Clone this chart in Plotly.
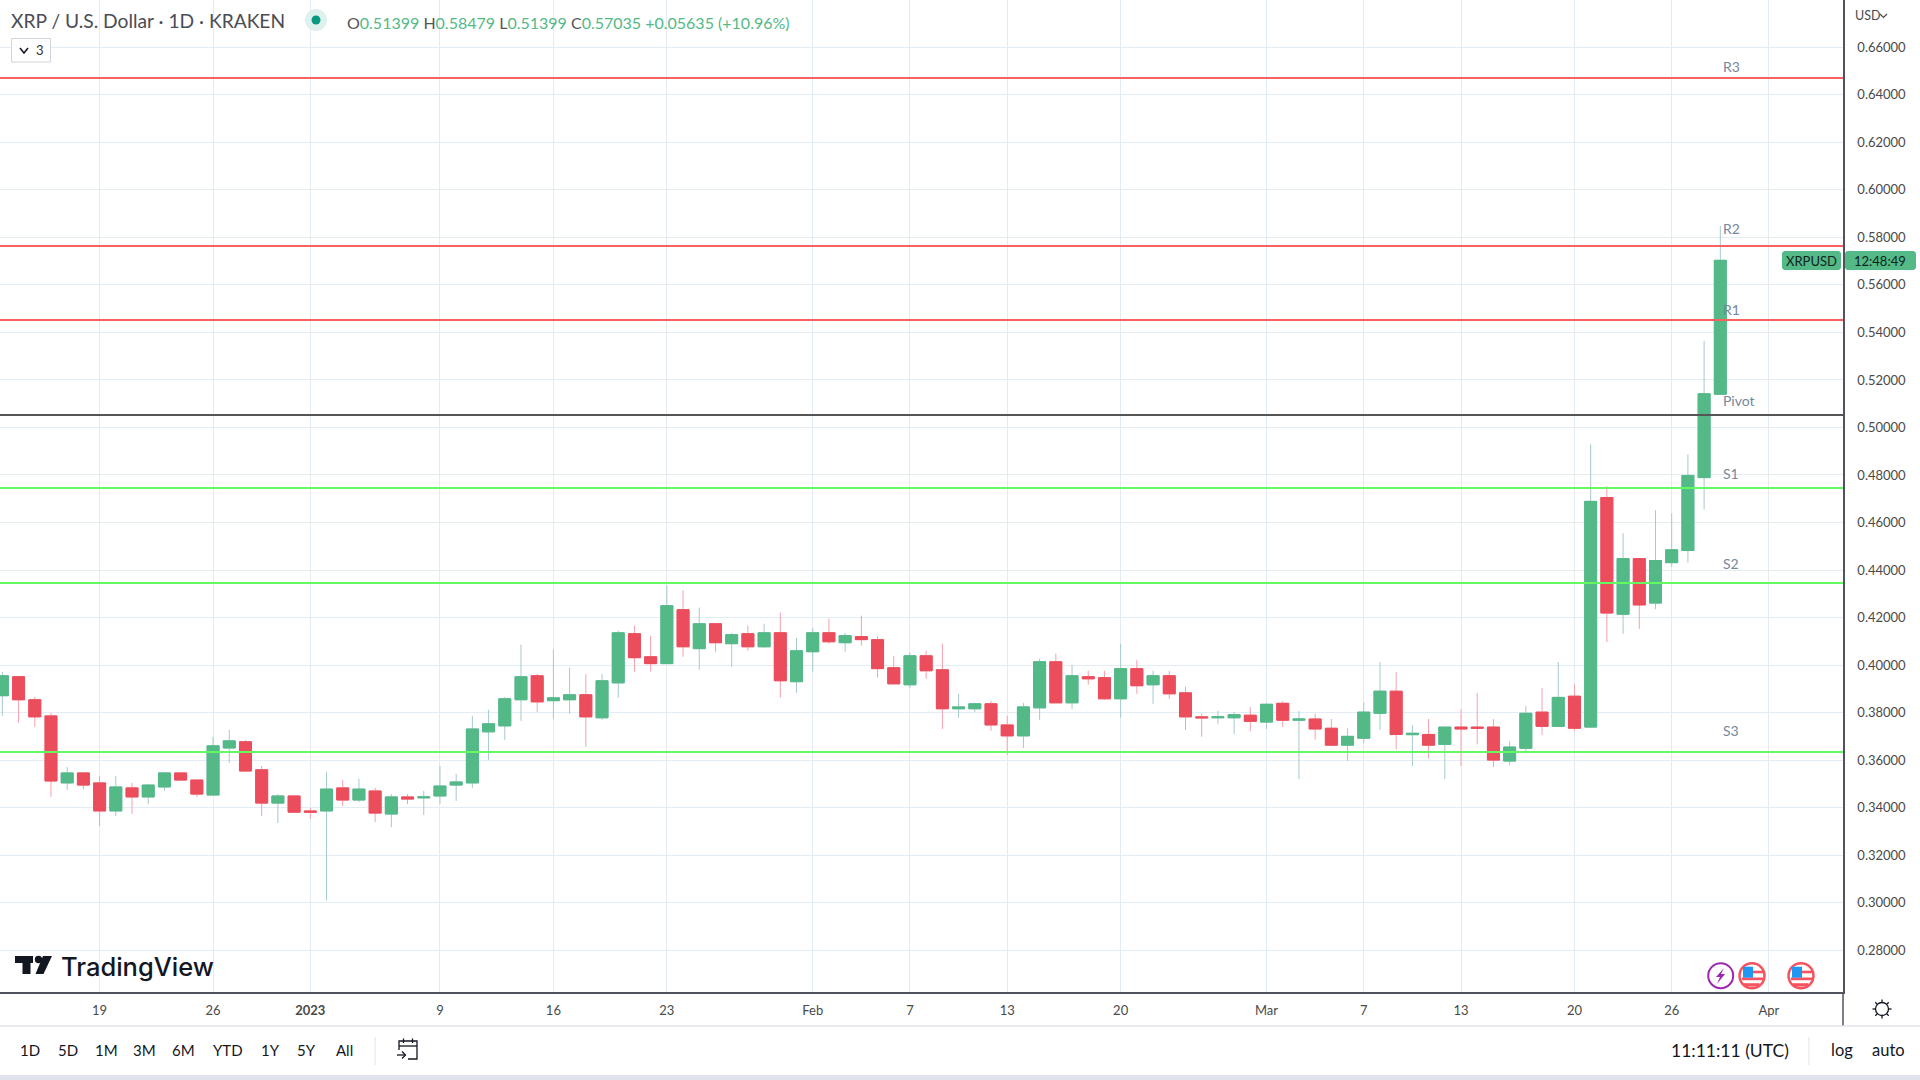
import math
import pandas as pd
import plotly.graph_objects as go

# ---------- data ----------
dates = pd.date_range("2022-12-13", "2023-03-29", freq="D").strftime("%Y-%m-%d").tolist()
opens = [.3871,.3951,.3854,.3786,.3504,.3546,.3504,.3386,.3483,.3445,.3487,.3546,.3516,.3453,.3651,.3677,.3559,.3419,.3449,.3386,
 .3386,.3483,.3432,.3470,.3373,.3445,.3441,.3449,.3495,.3504,.3719,.3744,.3854,.3955,.3850,.3854,.3875,.3778,.3925,.4132,
 .4035,.4006,.4233,.4069,.4174,.4090,.4132,.4077,.4136,.3930,.4056,.4136,.4094,.4120,.4107,.3989,.3917,.4039,.3980,.3816,
 .3816,.3837,.3748,.3702,.3820,.4014,.3841,.3951,.3947,.3858,.3985,.3917,.3955,.3883,.3782,.3778,.3778,.3789,.3760,.3839,
 .3768,.3773,.3734,.3663,.3692,.3797,.3890,.3707,.3708,.3666,.3739,.3739,.3739,.3596,.3650,.3802,.3742,.3869,.3739,.4705,
 .4214,.4448,.4261,.4431,.4482,.4789,.51399]
highs = [.3972,.3955,.3866,.3799,.3571,.3550,.3533,.3533,.3504,.3499,.3550,.3546,.3516,.3698,.3727,.3685,.3575,.3457,.3449,.3398,
 .3550,.3516,.3521,.3483,.3457,.3457,.3470,.3575,.3542,.3786,.3812,.3866,.4086,.3963,.4065,.3989,.3963,.3963,.4145,.4166,
 .4124,.4335,.4314,.4242,.4174,.4136,.4166,.4174,.4221,.4115,.4157,.4195,.4136,.4208,.4120,.4039,.4052,.4060,.4090,.3879,
 .3841,.3850,.3786,.3841,.4027,.4048,.4001,.3976,.3976,.4090,.4022,.3976,.3976,.3909,.3795,.3807,.3803,.3823,.3842,.3848,
 .3806,.3795,.3773,.3734,.3843,.4013,.3971,.3747,.3773,.3739,.3814,.3882,.3773,.3679,.3827,.3903,.4013,.3919,.4929,.4752,
 .4555,.4448,.4652,.4639,.4887,.5365,.58479]
lows = [.3786,.3757,.3740,.3445,.3474,.3478,.3322,.3364,.3373,.3415,.3470,.3512,.3445,.3453,.3588,.3550,.3364,.3335,.3381,.3352,
 .3010,.3407,.3423,.3339,.3318,.3415,.3369,.3415,.3428,.3483,.3601,.3685,.3765,.3803,.3774,.3795,.3656,.3769,.3862,.3972,
 .3972,.4006,.4035,.3980,.4056,.3993,.4060,.4073,.3862,.3883,.3972,.4090,.4056,.4082,.3947,.3917,.3904,.3942,.3731,.3778,
 .3803,.3723,.3622,.3651,.3769,.3841,.3816,.3917,.3854,.3778,.3879,.3837,.3858,.3727,.3698,.3753,.3710,.3721,.3731,.3739,
 .3520,.3686,.3658,.3596,.3671,.3726,.3645,.3575,.3608,.3520,.3575,.3666,.3570,.3578,.3629,.3705,.3739,.3721,.3734,.4097,
 .4131,.4152,.4235,.4413,.4431,.4655,.51399]
closes = [.3955,.3854,.3782,.3512,.3546,.3495,.3386,.3487,.3445,.3495,.3546,.3516,.3457,.3660,.3681,.3554,.3419,.3449,.3381,.3381,
 .3478,.3432,.3478,.3377,.3445,.3436,.3445,.3491,.3508,.3731,.3753,.3858,.3951,.3845,.3862,.3875,.3782,.3934,.4136,.4031,
 .4006,.4250,.4077,.4174,.4094,.4128,.4077,.4136,.3934,.4060,.4136,.4098,.4124,.4107,.3985,.3921,.4039,.3976,.3816,.3824,
 .3837,.3748,.3702,.3824,.4014,.3841,.3955,.3942,.3858,.3985,.3913,.3955,.3879,.3782,.3778,.3782,.3791,.3763,.3835,.3768,
 .3773,.3731,.3663,.3700,.3802,.3890,.3708,.3713,.3663,.3739,.3731,.3734,.3600,.3655,.3797,.3742,.3864,.3734,.4689,.4219,
 .4448,.4253,.4440,.4485,.4798,.5142,.57035]

level_names = ["R3", "R2", "R1", "Pivot", "S1", "S2", "S3"]
level_values = [.647082, .576374, .545229, .505246, .474522, .434539, .363410]
level_colors = ["#f96060", "#f96060", "#f96060", "#555555", "#62f962", "#62f962", "#62f962"]

price_ticks = [.28,.30,.32,.34,.36,.38,.40,.42,.44,.46,.48,.50,.52,.54,.56,.58,.60,.62,.64,.66]
time_ticks = ["2022-12-19","2022-12-26","2023-01-01","2023-01-09","2023-01-16","2023-01-23","2023-02-01","2023-02-07",
              "2023-02-13","2023-02-20","2023-03-01","2023-03-07","2023-03-13","2023-03-20","2023-03-26","2023-04-01"]
time_labels = ["19","26","<b>2023</b>","9","16","23","Feb","7","13","20","Mar","7","13","20","26","Apr"]
range_buttons = ["1D","5D","1M","3M","6M","YTD","1Y","5Y","All"]

# ---------- styling / layout constants (pixels of the 1920x1080 page) ----------
W, H = 1920, 1080
PLOT_R, PLOT_B = 1843, 992
FONT = "Lato"
UP, DOWN = "#53b987", "#eb4d5c"
UP_WICK, DOWN_WICK = "#a5c9cc", "#f6a0ac"
GRID = "#e4ecf3"
AXIS = "#50535e"
X_RANGE = ["2022-12-12 20:30", "2023-04-05 13:40"]
Y_RANGE = [0.2624, 0.67991]

px = lambda x: x / PLOT_R
py = lambda y: (PLOT_B - y) / PLOT_B

shapes, annots = [], []

def text(x, y, s, size=13, color="#4a4a4a", anchor="left", family=FONT, weight=None):
    f = dict(family=family, size=size, color=color)
    if weight:
        f["weight"] = weight
    annots.append(dict(xref="paper", yref="paper", x=px(x), y=py(y), text=s, showarrow=False,
                       xanchor=anchor, yanchor="middle", align=anchor, borderpad=0, borderwidth=0, font=f))

def rect(x0, y0, x1, y1, fill=None, line=None, lw=1):
    shapes.append(dict(type="rect", xref="paper", yref="paper", x0=px(x0), x1=px(x1), y0=py(y0), y1=py(y1),
                       fillcolor=fill or "rgba(0,0,0,0)", line=dict(color=line or "rgba(0,0,0,0)", width=lw if line else 0)))

def seg(x0, y0, x1, y1, color, lw=1):
    shapes.append(dict(type="line", xref="paper", yref="paper", x0=px(x0), x1=px(x1), y0=py(y0), y1=py(y1),
                       line=dict(color=color, width=lw)))

def circle(cx, cy, r, fill=None, line=None, lw=1):
    shapes.append(dict(type="circle", xref="paper", yref="paper", x0=px(cx-r), x1=px(cx+r), y0=py(cy+r), y1=py(cy-r),
                       fillcolor=fill or "rgba(0,0,0,0)", line=dict(color=line or "rgba(0,0,0,0)", width=lw if line else 0)))

def poly(points, fill=None, line=None, lw=1, closed=True):
    d = "M " + " L ".join(f"{px(a):.5f},{py(b):.5f}" for a, b in points) + (" Z" if closed else "")
    shapes.append(dict(type="path", xref="paper", yref="paper", path=d,
                       fillcolor=fill or "rgba(0,0,0,0)", line=dict(color=line or "rgba(0,0,0,0)", width=lw if line else 0)))

def tag(x0, y0, x1, y1, c=2):
    poly([(x0+c,y0),(x1-c,y0),(x1,y0+c),(x1,y1-c),(x1-c,y1),(x0+c,y1),(x0,y1-c),(x0,y0+c)], fill=UP)

# ---------- header ----------
text(11, 21, "XRP / U.S. Dollar · 1D · KRAKEN", 19.2, "#4a4d55")
circle(316, 20, 11, fill="#dff1ee")
circle(316, 20, 4.5, fill="#089981")
G = "#53b987"; L = "#555"
text(347, 22, f'<span style="color:{L}">O</span>0.51399 <span style="color:{L}">H</span>0.58479 '
              f'<span style="color:{L}">L</span>0.51399 <span style="color:{L}">C</span>0.57035 +0.05635 (+10.96%)', 16, G)
shapes.append(dict(type="rect", xref="paper", yref="paper", x0=px(11.5), x1=px(50.5), y0=py(62), y1=py(38.5),
                   fillcolor="white", line=dict(color="#d1d4dc", width=1)))
poly([(20, 48), (24, 53), (28, 48)], line="#131722", lw=1.5, closed=False)
text(36, 50, "3", 13, "#333")

# ---------- right axis decorations ----------
text(1855, 16, "USD", 12.5, "#4a4a4a")
poly([(1880, 14), (1883.5, 17.5), (1887, 14)], line="#4a4a4a", lw=1.2, closed=False)
tag(1782, 251, 1841, 270)
tag(1845, 251, 1916, 270)
text(1811.5, 261, "XRPUSD", 13, "#10241b", "center")
text(1880, 261, "12:48:49", 13, "#10241b", "center")

# ---------- level labels ----------
for name, yy in zip(level_names, [66, 228, 309, 401, 474, 563, 731]):
    text(1723, yy, name, 14, "#76889a")

# ---------- TradingView logo ----------
poly([(15,956),(33,956),(33,963),(30.5,963),(30.5,974),(22.5,974),(22.5,963),(15,963)], fill="#131722")
circle(38.5, 959.5, 3.7, fill="#131722")
poly([(43,956),(52,956),(43.5,974),(35.5,974)], fill="#131722")
text(60.5, 966, "TradingView", 25.5, "#131722", family="Inter", weight=500)

# ---------- event icons ----------
circle(1720.7, 975.7, 12.5, fill="white", line="#9c27b0", lw=2)
poly([(1724,968),(1716,977),(1720,977),(1717,984),(1725,974),(1721,974)], fill="#9c27b0")
for cx in (1752, 1801):
    circle(cx, 975.7, 12.5, fill="white", line="#f7525f", lw=2.5)
    rect(cx+1, 970.7, cx+11, 973.3, fill="#f7525f")
    rect(cx-10, 977.5, cx+11, 980.2, fill="#f7525f")
    rect(cx-8, 983.2, cx+7.5, 986.5, fill="#f7525f")
    rect(cx-9, 966.7, cx+1, 977.7, fill="#2196f3")

# ---------- axis chrome ----------
seg(PLOT_R, 992, PLOT_R, 1026, AXIS, 1.5)
seg(0, 1026, W, 1026, "#e0e3eb", 1.5)
rect(0, 1075, W, 1080, fill="#e0e3eb")
seg(375, 1037, 375, 1065, "#e0e3eb", 1)
seg(1809, 1037, 1809, 1065, "#e0e3eb", 1)
# settings gear: ring with eight short teeth
circle(1882, 1009, 6.5, line="#131722", lw=1.3)
for k in range(8):
    a = math.pi * k / 4
    seg(1882 + 6.5*math.cos(a), 1009 + 6.5*math.sin(a), 1882 + 9.5*math.cos(a), 1009 + 9.5*math.sin(a), "#131722", 1.3)

# ---------- bottom toolbar ----------
for label, x in zip(range_buttons, [29.5, 67.5, 106.5, 144.5, 183.5, 228, 270.5, 306, 344]):
    text(x, 1050, label, 15, "#131722", "center")
text(1730, 1050, "11:11:11 (UTC)", 17.5, "#131722", "center")
text(1842, 1050, "log", 16.5, "#131722", "center")
text(1888, 1050, "auto", 16.5, "#131722", "center")
# calendar icon
poly([(399,1050),(399,1041),(417,1041),(417,1059),(408,1059)], line="#131722", lw=1.3, closed=False)
seg(399, 1046, 417, 1046, "#131722", 1.3)
seg(403.5, 1038.5, 403.5, 1043, "#131722", 1.3)
seg(412.5, 1038.5, 412.5, 1043, "#131722", 1.3)
seg(397, 1055, 405, 1055, "#131722", 1.3)
poly([(402,1051.5),(405.5,1055),(402,1058.5)], line="#131722", lw=1.3, closed=False)

# ---------- figure ----------
fig = go.Figure()
# thin wicks
fig.add_trace(go.Candlestick(
    x=dates, open=opens, high=highs, low=lows, close=closes, whiskerwidth=0,
    increasing=dict(line=dict(color=UP_WICK, width=1), fillcolor=UP),
    decreasing=dict(line=dict(color=DOWN_WICK, width=1), fillcolor=DOWN),
    hoverinfo="skip", showlegend=False))
# solid bodies on top of them
fig.add_trace(go.Candlestick(
    x=dates, open=opens, close=closes,
    high=[max(a, b) for a, b in zip(opens, closes)],
    low=[min(a, b) for a, b in zip(opens, closes)], whiskerwidth=0,
    increasing=dict(line=dict(color=UP, width=1), fillcolor=UP),
    decreasing=dict(line=dict(color=DOWN, width=1), fillcolor=DOWN),
    hoverinfo="skip", showlegend=False))
for name, value, color in zip(level_names, level_values, level_colors):
    fig.add_trace(go.Scatter(x=X_RANGE, y=[value, value], mode="lines", name=name,
                             line=dict(color=color, width=2), hoverinfo="skip", showlegend=False))

fig.update_layout(
    width=W, height=H, autosize=False, showlegend=False,
    margin=dict(l=0, r=W - PLOT_R, t=0, b=H - PLOT_B, pad=0),
    paper_bgcolor="white", plot_bgcolor="white",
    font=dict(family=FONT, size=13, color="#4a4a4a"),
    boxmode="overlay", boxgap=0.26, boxgroupgap=0,
    shapes=shapes, annotations=annots,
    xaxis=dict(type="date", range=X_RANGE, rangeslider=dict(visible=False), tickmode="array",
               tickvals=time_ticks, ticktext=time_labels, tickangle=0, showgrid=True, gridcolor=GRID, gridwidth=1,
               zeroline=False, showline=True, linecolor=AXIS, linewidth=1.5, ticks="outside", ticklen=6,
               tickcolor="rgba(0,0,0,0)", tickfont=dict(family=FONT, size=13, color="#4a4a4a")),
    yaxis=dict(side="right", range=Y_RANGE, tickmode="array", tickvals=price_ticks, tickformat=".5f",
               showgrid=True, gridcolor=GRID, gridwidth=1, zeroline=False, showline=True, linecolor=AXIS,
               linewidth=1.5, ticks="outside", ticklen=10, tickcolor="rgba(0,0,0,0)",
               tickfont=dict(family=FONT, size=13, color="#4a4a4a")),
)

fig.write_html("out.html", config=dict(displayModeBar=False),
               post_script="document.body.style.margin='0';document.body.style.overflow='hidden';"
                           "document.documentElement.style.overflow='hidden';")
